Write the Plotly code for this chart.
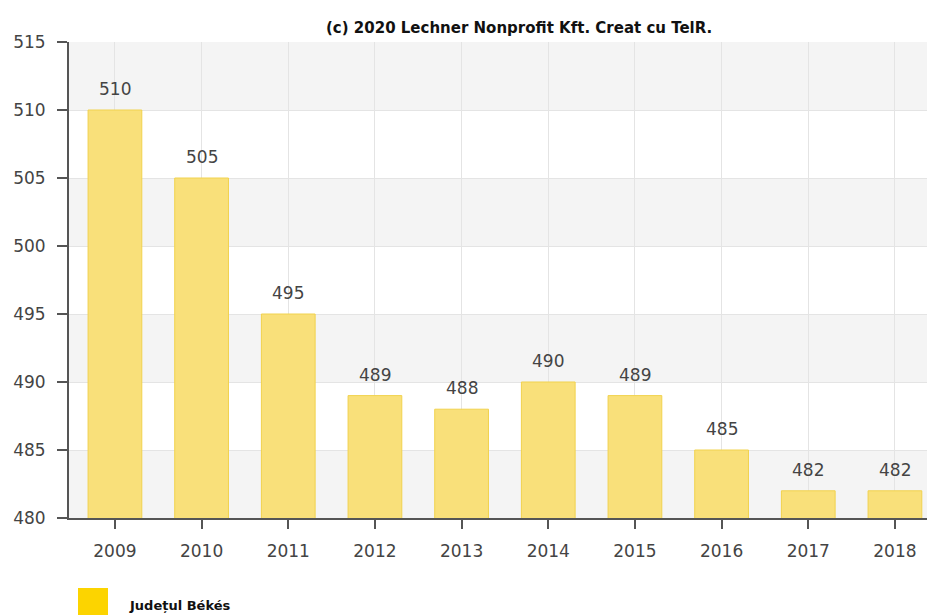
import plotly.graph_objects as go

# Annual values for Județul Békés
years = ["2009", "2010", "2011", "2012", "2013", "2014", "2015", "2016", "2017", "2018"]
values = [510, 505, 495, 489, 488, 490, 489, 485, 482, 482]

y_ticks = [480, 485, 490, 495, 500, 505, 510, 515]
series_name = "Județul Békés"
credit = "(c) 2020 Lechner Nonprofit Kft. Creat cu TelR."

Y_MIN, Y_MAX = 480, 515
TICK_FONT = dict(family="DejaVu Sans", size=17, color="#444444")

fig = go.Figure()

fig.add_trace(go.Bar(
    x=years,
    y=values,
    width=0.62,
    marker=dict(color="#f9e07a", line=dict(color="#f1d24e", width=1)),
    name=series_name,
    showlegend=False,
    hoverinfo="x+y",
))

# Alternating horizontal bands
shapes = []
for i, lo in enumerate(range(Y_MIN, Y_MAX, 5)):
    if i % 2 == 0:
        shapes.append(dict(type="rect", xref="paper", yref="y", x0=0, x1=1,
                           y0=lo, y1=lo + 5, fillcolor="#f4f4f4",
                           line=dict(width=0), layer="below"))

# Legend swatch
shapes.append(dict(type="rect", xref="paper", yref="paper",
                   x0=(78 - 69) / 858, x1=(108 - 69) / 858,
                   y0=-97 / 476, y1=-(588 - 518) / 476,
                   fillcolor="#fcd400", line=dict(width=0)))

# Value labels above each bar (category axis positions are indices)
annotations = [
    dict(x=i, y=v, xref="x", yref="y", text=str(v), showarrow=False,
         yanchor="bottom", yshift=9, font=TICK_FONT)
    for i, v in enumerate(values)
]
annotations.append(dict(xref="paper", yref="paper", x=(519 - 69) / 858,
                        y=1 + (42 - 28) / 476, yanchor="middle", text=credit,
                        showarrow=False,
                        font=dict(family="DejaVu Sans", size=15,
                                  color="#111111", weight="bold")))
annotations.append(dict(xref="paper", yref="paper", x=(127 - 69) / 858,
                        y=-(605 - 518) / 476, xanchor="left", yanchor="middle",
                        text=series_name, showarrow=False,
                        font=dict(family="DejaVu Sans", size=13,
                                  color="#111111", weight="bold")))

fig.update_layout(
    width=927,
    height=615,
    margin=dict(l=69, r=0, t=42, b=97),
    paper_bgcolor="white",
    plot_bgcolor="white",
    shapes=shapes,
    annotations=annotations,
    xaxis=dict(
        type="category",
        range=[-0.53, 9.37],
        showgrid=True,
        gridcolor="#e4e4e4",
        gridwidth=1,
        showline=True,
        linecolor="#555555",
        linewidth=2,
        ticks="outside",
        ticklen=9,
        tickcolor="#555555",
        tickwidth=2,
        tickfont=TICK_FONT,
        ticklabelstandoff=8,
        fixedrange=True,
    ),
    yaxis=dict(
        range=[Y_MIN, Y_MAX],
        tickvals=y_ticks,
        showgrid=True,
        gridcolor="#e4e4e4",
        gridwidth=1,
        zeroline=False,
        showline=True,
        linecolor="#555555",
        linewidth=2,
        ticks="outside",
        ticklen=10,
        tickcolor="#555555",
        tickwidth=2,
        tickfont=TICK_FONT,
        ticklabelstandoff=8,
        fixedrange=True,
    ),
)

fig.write_html("out.html")
